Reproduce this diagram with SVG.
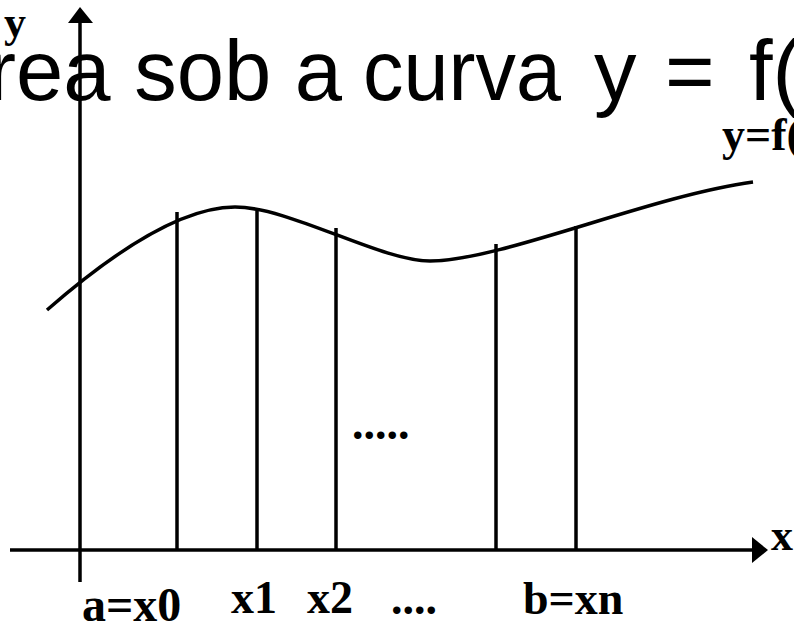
<svg xmlns="http://www.w3.org/2000/svg" width="794" height="626" viewBox="0 0 794 626">
<style>
.ln{stroke:#000;stroke-width:3.5;fill:none}
.lbl{font-family:"Liberation Serif","Times New Roman",serif;font-weight:bold;fill:#000}
.title{font-family:"Liberation Sans",Arial,sans-serif;font-size:85px;fill:#000}
</style>
<rect width="794" height="626" fill="#fff"/>
<g id="title"><text class="title" x="-69" y="100">Área sob a <tspan x="363" textLength="198" lengthAdjust="spacingAndGlyphs">curva</tspan> <tspan x="594">y</tspan> <tspan x="665">=</tspan> <tspan x="749">f(x)</tspan></text></g>
<g id="connectors">
<line class="ln" x1="80" y1="582" x2="80" y2="20"/>
<polygon points="80,7 68,23 93,23" fill="#000"/>
<line class="ln" x1="10" y1="550" x2="755" y2="550"/>
<polygon points="768,550 752,537 752,563" fill="#000"/>
<line class="ln" x1="177" y1="212" x2="177" y2="550"/>
<line class="ln" x1="257" y1="209" x2="257" y2="550"/>
<line class="ln" x1="336" y1="228" x2="336" y2="550"/>
<line class="ln" x1="496" y1="244" x2="496" y2="550"/>
<line class="ln" x1="576" y1="226" x2="576" y2="550"/>
<path class="ln" d="M47,310 C110,255 180,207 235,207 C290,207 380,261 430,261 C500,261 650,196 753,182"/>
</g>
<g id="labels">
<text class="lbl" x="4" y="37" font-size="44">y</text>
<text class="lbl" x="722" y="150" font-size="46">y=f(x)</text>
<text class="lbl" x="771" y="550" font-size="44">x</text>
<text class="lbl" x="352" y="439" font-size="46">.....</text>
<text class="lbl" x="82" y="621" font-size="48">a=x0</text>
<text class="lbl" x="231" y="613" font-size="46">x1</text>
<text class="lbl" x="307" y="613" font-size="46">x2</text>
<text class="lbl" x="391" y="614" font-size="46">....</text>
<text class="lbl" x="523" y="614" font-size="46">b=xn</text>
</g>
</svg>
